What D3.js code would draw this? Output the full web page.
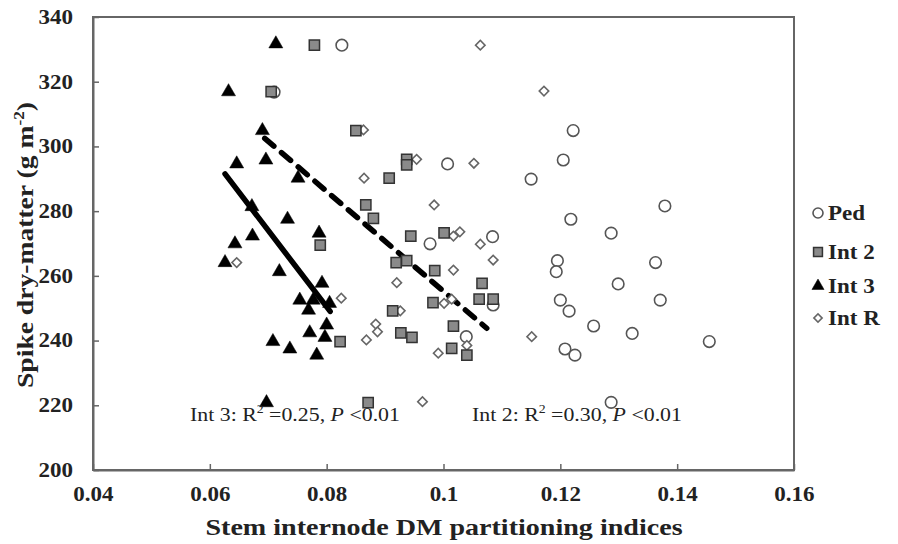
<!DOCTYPE html>
<html>
<head>
<meta charset="utf-8">
<script src="https://cdn.jsdelivr.net/npm/d3@7"></script>
<style>
  body { margin: 0; background: #fff; }
  svg { display: block; }
  text { font-family: "Liberation Serif", "DejaVu Serif", serif; fill: #222; }
</style>
</head>
<body>
<svg id="chart"></svg>
<script>
// values: [x, y]
const ped = [[0.0826,331.3],[0.0710,316.8],[0.1222,304.9],[0.1205,295.8],[0.1007,294.6],[0.1150,289.9],[0.1379,281.6],[0.1218,277.5],[0.1287,273.2],[0.1084,272.1],[0.0977,269.9],[0.1195,264.7],[0.1363,264.1],[0.1193,261.3],[0.1299,257.5],[0.1200,252.5],[0.1371,252.5],[0.1085,251.0],[0.1215,249.1],[0.1257,244.5],[0.1323,242.2],[0.1455,239.7],[0.1039,241.2],[0.1208,237.4],[0.1225,235.5],[0.1287,220.9]];
const int2 = [[0.0705,316.9],[0.0779,331.3],[0.0850,304.9],[0.0937,296.0],[0.0937,294.3],[0.0907,290.2],[0.0867,281.9],[0.0880,277.8],[0.0944,272.3],[0.1001,273.3],[0.0789,269.5],[0.0919,264.1],[0.0937,264.7],[0.0985,261.6],[0.1066,257.7],[0.0982,251.7],[0.1061,252.8],[0.1085,252.8],[0.0913,249.2],[0.1017,244.5],[0.0927,242.4],[0.0946,241.0],[0.0823,239.7],[0.1014,237.6],[0.1040,235.5],[0.0871,220.8]];
const int3 = [[0.0713,331.7],[0.0632,316.9],[0.0690,304.9],[0.0696,295.8],[0.0646,294.6],[0.0751,290.2],[0.0672,281.4],[0.0733,277.5],[0.0787,273.2],[0.0673,272.3],[0.0643,269.9],[0.0626,264.1],[0.0719,261.3],[0.0792,257.7],[0.0754,252.5],[0.0777,252.5],[0.0805,251.5],[0.0769,249.4],[0.0800,244.8],[0.0771,242.4],[0.0797,241.0],[0.0708,239.7],[0.0737,237.4],[0.0783,235.5],[0.0697,220.8]];
const intR = [[0.1063,331.3],[0.1172,317.1],[0.0863,305.1],[0.0954,296.0],[0.1052,294.8],[0.0864,290.2],[0.0984,281.9],[0.1017,272.3],[0.1028,273.6],[0.1063,269.8],[0.0646,264.1],[0.1085,264.9],[0.1017,261.8],[0.0825,253.1],[0.1001,251.5],[0.1014,252.8],[0.0926,249.2],[0.0920,257.9],[0.0884,245.1],[0.0887,242.7],[0.0868,240.2],[0.1151,241.2],[0.0991,236.1],[0.0964,221.1],[0.1040,238.5]];

// fitted lines (end points)
const fitInt3 = [[0.0626,291.5],[0.0806,249.0]];
const fitInt2 = [[0.0694,302.5],[0.1074,243.8]];

const xTicks = [0.04,0.06,0.08,0.1,0.12,0.14,0.16];
const yTicks = [200,220,240,260,280,300,320,340];
const legendNames = ["Ped","Int 2","Int 3","Int R"];

const W = 898, H = 544;
const SX = 1.15; // text in the picture is a bit wide
const svg = d3.select("#chart").attr("width", W).attr("height", H);

const x = d3.scaleLinear().domain([0.04,0.16]).range([93,794]);
const y = d3.scaleLinear().domain([200,340]).range([470,17]);

// frame
svg.append("rect").attr("x",93).attr("y",17).attr("width",701).attr("height",453)
  .attr("fill","none").attr("stroke","#666").attr("stroke-width",2);

const xAxis = svg.append("g").attr("transform","translate(0,470)")
  .call(d3.axisBottom(x).tickValues(xTicks).tickSizeInner(-6).tickSizeOuter(0).tickFormat(d => String(d)));
const yAxis = svg.append("g").attr("transform","translate(93,0)")
  .call(d3.axisLeft(y).tickValues(yTicks).tickSizeInner(-6).tickSizeOuter(0));
[xAxis, yAxis].forEach(a => {
  a.select(".domain").attr("stroke","#666").attr("stroke-width",2);
  a.selectAll(".tick line").attr("stroke","#666").attr("stroke-width",1.5);
  a.selectAll(".tick text").attr("font-family","Liberation Serif, serif").attr("font-weight","bold")
    .attr("font-size",20).attr("fill","#222").attr("transform",`scale(${SX},1)`);
});
xAxis.selectAll(".tick text").attr("y",17);
yAxis.selectAll(".tick text").attr("x",-20 / SX);

// regression lines
const line = d3.line().x(d => x(d[0])).y(d => y(d[1]));
svg.append("path").attr("d", line(fitInt3)).attr("stroke","#000").attr("stroke-width",5.5)
  .attr("fill","none").attr("stroke-linecap","round");
svg.append("path").attr("d", line(fitInt2)).attr("stroke","#000").attr("stroke-width",5.5)
  .attr("fill","none").attr("stroke-dasharray","12,10").attr("stroke-linecap","round");

// markers
const styles = {
  "Ped":   {sym: d3.symbolCircle, size: 105, fill: "#fff", stroke: "#555", sw: 1.6, rot: 0, data: ped},
  "Int 2": {sym: d3.symbolSquare, size: 105, fill: "#8a8a8a", stroke: "#333", sw: 1.5, rot: 0, data: int2},
  "Int 3": {sym: d3.symbolTriangle, size: 85, fill: "#000", stroke: "#000", sw: 0.5, rot: 0, data: int3},
  "Int R": {sym: d3.symbolSquare, size: 45, fill: "#fff", stroke: "#666", sw: 1.6, rot: 45, data: intR}
};

["Ped","Int R","Int 2","Int 3"].forEach(name => {
  const s = styles[name];
  svg.append("g").selectAll("path").data(s.data).join("path")
    .attr("d", d3.symbol().type(s.sym).size(s.size))
    .attr("transform", d => `translate(${x(d[0])},${y(d[1])}) rotate(${s.rot})`)
    .attr("fill", s.fill).attr("stroke", s.stroke).attr("stroke-width", s.sw);
});

// legend
const legY = [213,252,286,318];
const leg = svg.append("g");
legendNames.forEach((name, i) => {
  const s = styles[name];
  leg.append("path").attr("d", d3.symbol().type(s.sym).size(s.size*0.75))
    .attr("transform", `translate(818,${legY[i]}) rotate(${s.rot})`)
    .attr("fill", s.fill).attr("stroke", s.stroke).attr("stroke-width", s.sw);
  leg.append("text").attr("transform",`translate(828,${legY[i]}) scale(${SX},1)`).attr("dy","0.35em")
    .attr("font-size",20).attr("font-weight","bold").text(name);
});

// annotations
function note(xp, label, r2) {
  const t = svg.append("text").attr("transform",`translate(${xp},421) scale(${SX},1)`).attr("font-size",19);
  t.append("tspan").text(label + ": R");
  t.append("tspan").attr("dy",-8).attr("font-size",12).text("2");
  t.append("tspan").attr("dy",8).text(" =" + r2 + ", ");
  t.append("tspan").attr("font-style","italic").text("P");
  t.append("tspan").text(" <0.01");
}
note(190, "Int 3", "0.25");
note(472, "Int 2", "0.30");

// axis titles
svg.append("text").attr("transform",`translate(444,535) scale(1.17,1)`).attr("text-anchor","middle")
  .attr("font-size",24).attr("font-weight","bold").text("Stem internode DM partitioning indices");
const yl = svg.append("text").attr("transform","translate(33,245) rotate(-90) scale(1.15,1)").attr("text-anchor","middle")
  .attr("font-size",24).attr("font-weight","bold");
yl.append("tspan").text("Spike dry-matter (g m");
yl.append("tspan").attr("dy",-9).attr("font-size",15).text("-2");
yl.append("tspan").attr("dy",9).text(")");
</script>
</body>
</html>
